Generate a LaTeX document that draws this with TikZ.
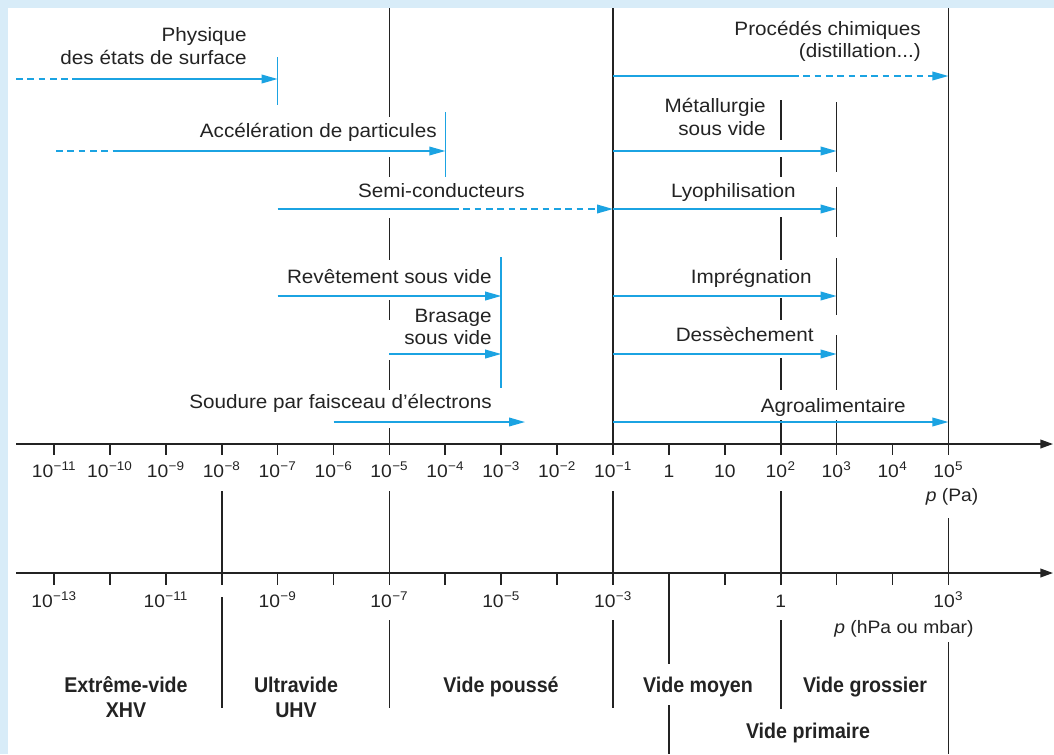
\documentclass[tikz,border=0pt]{standalone}
\usepackage{fontspec}
\setmainfont[FakeStretch=1.07]{Liberation Sans}
\newfontfamily\zonefont[FakeStretch=0.92]{Liberation Sans Bold}
\usetikzlibrary{arrows.meta}
\definecolor{bgblue}{RGB}{216,236,248}
\definecolor{arblue}{RGB}{27,163,226}
\definecolor{ink}{RGB}{35,35,35}
\newcommand\tp[1]{10\textsuperscript{\kern0.3pt#1}}
\begin{document}
\begin{tikzpicture}[x=0.75pt,y=-0.75pt,
  blk/.style={draw=ink,line width=1.25pt},
  axisline/.style={draw=ink,line width=1.3pt,-{Triangle[length=9.5pt,width=6.5pt]}},
  barr/.style={draw=arblue,line width=1.15pt,-{Triangle[length=12pt,width=6.5pt]}},
  bline/.style={draw=arblue,line width=1.15pt},
  bdash/.style={draw=arblue,line width=1.15pt,dash pattern=on 5pt off 3.5pt},
  lbl/.style={font=\fontsize{14.5}{17}\selectfont,text=ink,inner sep=0pt,anchor=base east},
  tick/.style={font=\fontsize{13.5}{15}\selectfont,text=ink,inner sep=0pt,anchor=base},
  zone/.style={font=\zonefont\fontsize{16}{18}\selectfont,text=ink,inner sep=0pt,anchor=base}]
\useasboundingbox (0,0) rectangle (1054,754);
\fill[bgblue] (0,0) rectangle (1054,754);
\fill[white] (8,8) rectangle (1054,754);

% ---------- axes ----------
\coordinate (ax1a) at (16,444);  \coordinate (ax1b) at (1053,444);
\coordinate (ax2a) at (16,573);  \coordinate (ax2b) at (1053,573);
\draw[axisline] (ax1a) -- (ax1b);
\draw[axisline] (ax2a) -- (ax2b);
\foreach \k in {-11,...,5}{
  \pgfmathsetmacro\xx{54+55.9*(\k+11)}
  \draw[blk] (\xx,444) -- (\xx,455);
  \draw[blk] (\xx,573) -- (\xx,585);
}

% top tick labels (Pa)
\node[tick] (p1)  at (54,477)    {\tp{−11}};
\node[tick] (p2)  at (109.9,477) {\tp{−10}};
\node[tick] (p3)  at (165.8,477) {\tp{−9}};
\node[tick] (p4)  at (221.7,477) {\tp{−8}};
\node[tick] (p5)  at (277.6,477) {\tp{−7}};
\node[tick] (p6)  at (333.5,477) {\tp{−6}};
\node[tick] (p7)  at (389.4,477) {\tp{−5}};
\node[tick] (p8)  at (445.3,477) {\tp{−4}};
\node[tick] (p9)  at (501.2,477) {\tp{−3}};
\node[tick] (p10) at (557.1,477) {\tp{−2}};
\node[tick] (p11) at (613,477)   {\tp{−1}};
\node[tick] (p12) at (668.9,477) {1};
\node[tick] (p13) at (724.8,477) {10};
\node[tick] (p14) at (780.7,477) {\tp{2}};
\node[tick] (p15) at (836.6,477) {\tp{3}};
\node[tick] (p16) at (892.5,477) {\tp{4}};
\node[tick] (p17) at (948.4,477) {\tp{5}};
\node[tick] (unitPa) at (952,501) {\textit{p} (Pa)};

% bottom tick labels (hPa)
\node[tick] (h1) at (54,607)    {\tp{−13}};
\node[tick] (h2) at (165.8,607) {\tp{−11}};
\node[tick] (h3) at (277.6,607) {\tp{−9}};
\node[tick] (h4) at (389.4,607) {\tp{−7}};
\node[tick] (h5) at (501.2,607) {\tp{−5}};
\node[tick] (h6) at (613,607)   {\tp{−3}};
\node[tick] (h7) at (780.7,607) {1};
\node[tick] (h8) at (948.4,607) {\tp{3}};
\node[tick] (unithPa) at (904,633) {\textit{p} (hPa ou mbar)};

% ---------- black vertical lines ----------
% 10^-5 Pa
\foreach \a/\b in {8/117,157/177,218/260,300/320,360/390,428/444,491/573,620/708}
  \draw[blk] (389.4,\a) -- (389.4,\b);
% 10^-1 Pa
\draw[blk] (613,8) -- (613,444);
\draw[blk] (613,491) -- (613,573);
\draw[blk] (613,620) -- (613,708);
% 10^2 Pa
\foreach \a/\b in {100/140,157/177,217/260,298/320,358/390,420/444,491/573,620/709}
  \draw[blk] (780.7,\a) -- (780.7,\b);
% 10^3 Pa
\foreach \a/\b in {102/172,187/237,258/315,335/390,420/444}
  \draw[blk] (836.6,\a) -- (836.6,\b);
% 10^5 Pa
\draw[blk] (948.4,8) -- (948.4,444);
\draw[blk] (948.4,518) -- (948.4,573);
\draw[blk] (948.4,642) -- (948.4,754);
% 10^-8 Pa
\draw[blk] (221.7,491) -- (221.7,573);
\draw[blk] (221.7,597) -- (221.7,708);
% 1 Pa
\draw[blk] (668.9,573) -- (668.9,664);
\draw[blk] (668.9,705) -- (668.9,754);

% ---------- blue limit bars ----------
\draw[bline] (277.6,57) -- (277.6,105);
\draw[bline] (445.3,112) -- (445.3,177);
\draw[bline] (501.2,257) -- (501.2,388);

% ---------- left applications ----------
\node[lbl] (phys1) at (247,41) {Physique};
\node[lbl] (phys2) at (247,64) {des états de surface};
\coordinate (physA) at (16,79); \coordinate (physB) at (72,79); \coordinate (physE) at (277.6,79);
\draw[bdash] (physA) -- (physB);
\draw[barr] (physB) -- (physE);

\node[lbl] (acc) at (437,137) {Accélération de particules};
\coordinate (accA) at (56,151); \coordinate (accB) at (118,151); \coordinate (accE) at (445.3,151);
\draw[bdash] (accA) -- (accB);
\draw[barr] (accB) -- (accE);

\node[lbl] (semi) at (525,197) {Semi-conducteurs};
\coordinate (semiA) at (277.6,209); \coordinate (semiB) at (452,209); \coordinate (semiE) at (613,209);
\draw[bline] (semiA) -- (semiB);
\draw[bdash,-{Triangle[length=12pt,width=6.5pt]}] (semiB) -- (semiE);

\node[lbl] (rev) at (492,283) {Revêtement sous vide};
\coordinate (revA) at (277.6,296); \coordinate (revE) at (501.2,296);
\draw[barr] (revA) -- (revE);

\node[lbl] (bras1) at (492,322) {Brasage};
\node[lbl] (bras2) at (492,344) {sous vide};
\coordinate (brasA) at (389.4,354); \coordinate (brasE) at (501.2,354);
\draw[barr] (brasA) -- (brasE);

\node[lbl] (soud) at (492,408) {Soudure par faisceau d'électrons};
\coordinate (soudA) at (333.5,422); \coordinate (soudE) at (525,422);
\draw[barr] (soudA) -- (soudE);

% ---------- right applications ----------
\node[lbl] (chim1) at (921,35) {Procédés chimiques};
\node[lbl] (chim2) at (921,57) {(distillation...)};
\coordinate (chimA) at (613,76); \coordinate (chimB) at (792,76); \coordinate (chimE) at (948.4,76);
\draw[bline] (chimA) -- (chimB);
\draw[bdash,-{Triangle[length=12pt,width=6.5pt]}] (chimB) -- (chimE);

\node[lbl] (met1) at (766,112) {Métallurgie};
\node[lbl] (met2) at (766,135) {sous vide};
\coordinate (metA) at (613,151); \coordinate (metE) at (836.6,151);
\draw[barr] (metA) -- (metE);

\node[lbl] (lyo) at (796,197) {Lyophilisation};
\coordinate (lyoA) at (613,209); \coordinate (lyoE) at (836.6,209);
\draw[barr] (lyoA) -- (lyoE);

\node[lbl] (imp) at (812,283) {Imprégnation};
\coordinate (impA) at (613,296); \coordinate (impE) at (836.6,296);
\draw[barr] (impA) -- (impE);

\node[lbl] (des) at (814,341) {Dessèchement};
\coordinate (desA) at (613,354); \coordinate (desE) at (836.6,354);
\draw[barr] (desA) -- (desE);

\node[lbl] (agro) at (906,412) {Agroalimentaire};
\coordinate (agroA) at (613,422); \coordinate (agroE) at (948.4,422);
\draw[barr] (agroA) -- (agroE);

% ---------- vacuum ranges ----------
\node[zone] (xhv1) at (126,692) {Extrême-vide};
\node[zone] (xhv2) at (126,717) {XHV};
\node[zone] (uhv1) at (296,692) {Ultravide};
\node[zone] (uhv2) at (296,717) {UHV};
\node[zone] (hv)   at (501,692) {Vide poussé};
\node[zone] (mv)   at (698,692) {Vide moyen};
\node[zone] (gv)   at (865,692) {Vide grossier};
\node[zone] (pv)   at (808,738) {Vide primaire};
\end{tikzpicture}
\end{document}
